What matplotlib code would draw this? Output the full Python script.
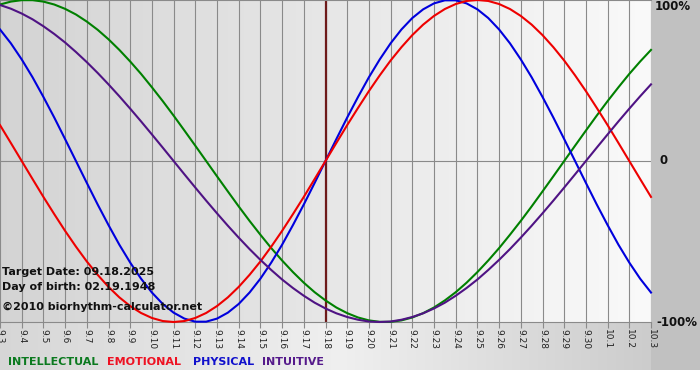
import numpy as np
import matplotlib
matplotlib.use("Agg")
import matplotlib.pyplot as plt

# ---- data (values every half day, 9.3 .. 10.3) ----
day_labels = ["9.3", "9.4", "9.5", "9.6", "9.7", "9.8", "9.9", "9.10", "9.11", "9.12",
              "9.13", "9.14", "9.15", "9.16", "9.17", "9.18", "9.19", "9.20", "9.21",
              "9.22", "9.23", "9.24", "9.25", "9.26", "9.27", "9.28", "9.29", "9.30",
              "10.1", "10.2", "10.3"]
target_index = 15

physical = [0.817, 0.731, 0.631, 0.520, 0.398, 0.270, 0.136, 0.000, -0.136, -0.270,
            -0.398, -0.520, -0.631, -0.731, -0.817, -0.888, -0.942, -0.979, -0.998, -0.998,
            -0.979, -0.942, -0.888, -0.817, -0.731, -0.631, -0.520, -0.398, -0.270, -0.136,
            0.000,
            0.136, 0.270, 0.398, 0.520, 0.631, 0.731, 0.817, 0.888, 0.942, 0.979,
            0.998, 0.998, 0.979, 0.942, 0.888, 0.817, 0.731, 0.631, 0.520, 0.398,
            0.270, 0.136, 0.000, -0.136, -0.270, -0.398, -0.520, -0.631, -0.731, -0.817]
emotional = [0.223, 0.112, 0.000, -0.112, -0.223, -0.330, -0.434, -0.532, -0.624, -0.707,
             -0.782, -0.847, -0.901, -0.944, -0.975, -0.994, -1.000, -0.994, -0.975, -0.944,
             -0.901, -0.847, -0.782, -0.707, -0.624, -0.532, -0.434, -0.330, -0.223, -0.112,
             0.000,
             0.112, 0.223, 0.330, 0.434, 0.532, 0.624, 0.707, 0.782, 0.847, 0.901,
             0.944, 0.975, 0.994, 1.000, 0.994, 0.975, 0.944, 0.901, 0.847, 0.782,
             0.707, 0.624, 0.532, 0.434, 0.330, 0.223, 0.112, 0.000, -0.112, -0.223]
intellectual = [0.972, 0.990, 0.999, 0.999, 0.990, 0.972, 0.945, 0.910, 0.866, 0.815,
                0.756, 0.690, 0.618, 0.541, 0.458, 0.372, 0.282, 0.189, 0.095, 0.000,
                -0.095, -0.189, -0.282, -0.372, -0.458, -0.541, -0.618, -0.690, -0.756, -0.815,
                -0.866,
                -0.910, -0.945, -0.972, -0.990, -0.999, -0.999, -0.990, -0.972, -0.945, -0.910,
                -0.866, -0.815, -0.756, -0.690, -0.618, -0.541, -0.458, -0.372, -0.282, -0.189,
                -0.095, 0.000, 0.095, 0.189, 0.282, 0.372, 0.458, 0.541, 0.618, 0.690]
intuitive = [0.969, 0.946, 0.916, 0.880, 0.837, 0.789, 0.736, 0.677, 0.614, 0.547,
             0.476, 0.402, 0.325, 0.246, 0.165, 0.083, 0.000, -0.083, -0.165, -0.246,
             -0.325, -0.402, -0.476, -0.547, -0.614, -0.677, -0.736, -0.789, -0.837, -0.880,
             -0.916,
             -0.946, -0.969, -0.986, -0.997, -1.000, -0.997, -0.986, -0.969, -0.946, -0.916,
             -0.880, -0.837, -0.789, -0.736, -0.677, -0.614, -0.547, -0.476, -0.402, -0.325,
             -0.246, -0.165, -0.083, 0.000, 0.083, 0.165, 0.246, 0.325, 0.402, 0.476]

legend_names = ["INTELLECTUAL", "EMOTIONAL", "PHYSICAL", "INTUITIVE"]
info_lines = ["Target Date: 09.18.2025", "Day of birth: 02.19.1948", "\u00a92010 biorhythm-calculator.net"]

# ---- style ----
C_INT = "#008000"
C_EMO = "#ee0000"
C_PHY = "#0000dd"
C_TUI = "#4f1384"
GRID = "#8a8a8a"

W, H = 700, 380
fig = plt.figure(figsize=(W / 100, H / 100), dpi=100)

# background
xs = np.arange(W)
lev = np.interp(xs, [0, 340, 650, 651, 699], [0.84, 0.94, 0.80, 0.76, 0.76])
img = np.ones((H, W, 3))
img[:370, :, :] = lev[None, :, None]
bg = fig.add_axes([0, 0, 1, 1], zorder=0)
bg.imshow(img, aspect="auto", extent=[0, W, H, 0], interpolation="nearest")
bg.axis("off")

PX_R = 651
PX_B = 322
ax = fig.add_axes([0, 1 - PX_B / H, PX_R / W, PX_B / H], zorder=1)
ax.patch.set_alpha(0)
n = len(day_labels)
days = np.arange(n)
samples = np.linspace(0, n - 1, len(physical))
ax.set_xlim(0, n - 1)
ax.set_ylim(-1, 1)

grad = np.linspace(0.83, 0.98, 200)
gimg = np.repeat(grad[None, :, None], 3, axis=2)
ax.imshow(gimg, aspect="auto", extent=[0, n - 1, -1, 1], zorder=0)

ax.set_xticks(days)
ax.set_xticklabels(day_labels, rotation=270, fontsize=6.5, color="#222222")
ax.tick_params(axis="x", length=4, width=0.8, color=GRID, pad=1)
ax.set_yticks([])
ax.grid(axis="x", color=GRID, lw=0.8, zorder=1)
ax.axhline(0, color=GRID, lw=0.8, zorder=1)
for s in ["left", "right"]:
    ax.spines[s].set_visible(False)
for s in ["top", "bottom"]:
    ax.spines[s].set_color(GRID)
    ax.spines[s].set_linewidth(0.8)

ax.axvline(target_index, color="#6e1a1a", lw=1.6, zorder=2)

for i, t in enumerate(info_lines):
    yy = [272, 287, 307][i]
    fig.text(2 / W, 1 - yy / H, t, fontsize=8, fontweight="bold", color="#111111",
             ha="left", va="center", zorder=3)

ax.plot(samples, intellectual, color=C_INT, lw=1.5, zorder=4, clip_on=False)
ax.plot(samples, physical, color=C_PHY, lw=1.5, zorder=4, clip_on=False)
ax.plot(samples, emotional, color=C_EMO, lw=1.5, zorder=4, clip_on=False)
ax.plot(samples, intuitive, color=C_TUI, lw=1.5, zorder=4, clip_on=False)

# right axis labels
fig.text(655 / W, 1 - 7 / H, "100%", fontsize=8.5, fontweight="bold", color="#111111",
         ha="left", va="center")
fig.text(659 / W, 1 - 161 / H, "0", fontsize=8.5, fontweight="bold", color="#111111",
         ha="left", va="center")
fig.text(656 / W, 1 - 322 / H, "-100%", fontsize=8.5, fontweight="bold", color="#111111",
         ha="left", va="center")

# legend words
for name, col, x0 in zip(legend_names, ["#0b7a1f", "#ee1122", "#1010cc", "#551a8b"],
                         [8, 107, 193, 262]):
    fig.text(x0 / W, 1 - 362 / H, name, fontsize=8, fontweight="bold", color=col,
             ha="left", va="center")

fig.savefig("out.png", dpi=100)
